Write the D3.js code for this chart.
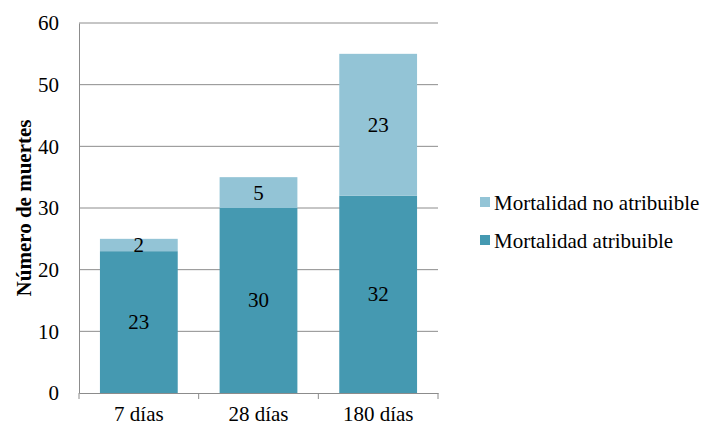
<!DOCTYPE html>
<html>
<head>
<meta charset="utf-8">
<script src="https://cdn.jsdelivr.net/npm/d3@7"></script>
<style>
  html, body { margin: 0; padding: 0; background: #fff; }
</style>
</head>
<body>
<svg id="chart" width="703" height="427"></svg>
<script>
// Deaths by follow-up period, split into attributable / non-attributable
const categories = ["7 días", "28 días", "180 días"];
const atribuible = [23, 30, 32];
const noAtribuible = [2, 5, 23];
const seriesNames = ["Mortalidad atribuible", "Mortalidad no atribuible"];
const yTicks = [0, 10, 20, 30, 40, 50, 60];

const colors = { atribuible: "#4599b1", noAtribuible: "#93c4d6" };
const gridColor = "#8c8c8c";
const fontSize = 21;

const svg = d3.select("#chart");
const margin = { left: 79, right: 703 - 438, top: 23, bottom: 427 - 393 };
const width = 703 - margin.left - margin.right;
const height = 427 - margin.top - margin.bottom;

const g = svg.append("g").attr("transform", `translate(${margin.left},${margin.top})`);

const x = d3.scaleBand().domain(categories).range([0, width]).paddingInner(0.35).paddingOuter(0.175);
const y = d3.scaleLinear().domain([0, 60]).range([height, 0]);

// horizontal gridlines
g.append("g").selectAll("line").data(yTicks.filter(t => t > 0)).join("line")
  .attr("x1", 0).attr("x2", width)
  .attr("y1", d => y(d)).attr("y2", d => y(d))
  .attr("stroke", gridColor).attr("stroke-width", 1);

// stacked bars
const rows = categories.map((c, i) => ({ cat: c, a: atribuible[i], n: noAtribuible[i] }));
g.append("g").selectAll("rect").data(rows).join("rect")
  .attr("x", d => x(d.cat)).attr("width", x.bandwidth())
  .attr("y", d => y(d.a)).attr("height", d => y(0) - y(d.a))
  .attr("fill", colors.atribuible);
g.append("g").selectAll("rect").data(rows).join("rect")
  .attr("x", d => x(d.cat)).attr("width", x.bandwidth())
  .attr("y", d => y(d.a + d.n)).attr("height", d => y(d.a) - y(d.a + d.n))
  .attr("fill", colors.noAtribuible);

// value labels centred in each segment
const labelG = g.append("g").attr("text-anchor", "middle");
labelG.selectAll("text.a").data(rows).join("text").attr("class", "a")
  .attr("x", d => x(d.cat) + x.bandwidth() / 2)
  .attr("y", d => y(d.a / 2)).attr("dy", "0.33em")
  .text(d => d.a);
labelG.selectAll("text.n").data(rows).join("text").attr("class", "n")
  .attr("x", d => x(d.cat) + x.bandwidth() / 2)
  .attr("y", d => y(d.a + d.n / 2)).attr("dy", "0.33em")
  .text(d => d.n);

// y axis
const yAxis = g.append("g")
  .call(d3.axisLeft(y).tickValues(yTicks).tickSize(0).tickPadding(20));
yAxis.select(".domain").attr("stroke", gridColor);

// x axis
const xAxis = g.append("g").attr("transform", `translate(0,${height})`)
  .call(d3.axisBottom(x).tickSize(0).tickPadding(13));
xAxis.select(".domain").attr("stroke", gridColor);
// category boundary tick marks
const bounds = [0, ...categories.map(c => x(c) + x.bandwidth() + x.step() * x.paddingInner() / 2)];
bounds[bounds.length - 1] = width;
g.append("g").selectAll("line").data(bounds).join("line")
  .attr("x1", d => d).attr("x2", d => d)
  .attr("y1", height).attr("y2", height + 6)
  .attr("stroke", gridColor);

// y axis title
svg.append("text").attr("class", "title")
  .attr("transform", `translate(31,${margin.top + height / 2}) rotate(-90)`)
  .attr("text-anchor", "middle")
  .attr("font-weight", "bold")
  .text("Número de muertes");

// legend (non-attributable listed first, matching stack order top-down)
const legendItems = [
  { name: seriesNames[1], color: colors.noAtribuible },
  { name: seriesNames[0], color: colors.atribuible }
];
const legend = svg.append("g").attr("transform", "translate(480,197)");
const li = legend.selectAll("g").data(legendItems).join("g")
  .attr("transform", (d, i) => `translate(0,${i * 38})`);
li.append("rect").attr("width", 10).attr("height", 10).attr("fill", d => d.color);
li.append("text").attr("x", 14).attr("y", 13).text(d => d.name);

// uniform serif typography for every label
svg.selectAll("g").attr("font-family", null).attr("font-size", null);
svg.selectAll("text")
  .style("font-family", '"Liberation Serif"')
  .attr("font-size", fontSize)
  .attr("fill", "#000");
</script>
</body>
</html>
